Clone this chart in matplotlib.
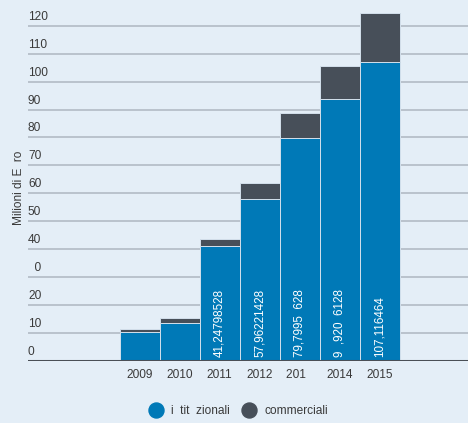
import matplotlib.pyplot as plt
from matplotlib.lines import Line2D
import matplotlib.transforms as mtransforms

plt.rcParams['font.family'] = ['Liberation Sans', 'DejaVu Sans']

# data
years = ["2009", "2010", "2011", "2012", "201  ", "2014", "2015"]
istituzionali = [10.3, 13.7, 41.25, 57.96, 79.80, 93.92, 107.12]
commerciali = [1.1, 1.6, 2.4, 5.9, 9.1, 11.5, 17.6]
bar_labels = ["", "", "41,24798528", "57,96221428", "79,7995  628",
              "9  ,920  6128", "107,116464"]
yticks = [0, 10, 20, 30, 40, 50, 60, 70, 80, 90, 100, 110, 120]
ytick_labels = ["0", "10", "20", "  0", "40", "50", "60", "70", "80",
                "90", "100", "110", "120"]

bg = '#e4eef7'
blue = '#0079b7'
dark = '#474f59'

fig = plt.figure(figsize=(4.68, 4.23), dpi=100, facecolor=bg)
ax = fig.add_axes([28 / 468, 62 / 423, 440 / 468, 361 / 423])
ax.set_facecolor(bg)

x = list(range(len(years)))
ax.bar(x, istituzionali, width=1.0, color=blue, edgecolor='#d3e0ec',
       linewidth=0.7, zorder=3)
ax.bar(x, commerciali, width=1.0, bottom=istituzionali, color=dark,
       edgecolor='#d3e0ec', linewidth=0.7, zorder=3)

ax.set_xlim(-2.79, 8.21)
ax.set_ylim(0, 129.2)

# grid lines and labels sitting on top of them
trans = mtransforms.blended_transform_factory(ax.transAxes, ax.transData)
trans = trans + mtransforms.ScaledTranslation(0, 3 / 100, fig.dpi_scale_trans)
for v, lab in zip(yticks, ytick_labels):
    if v == 0:
        ax.axhline(v, color='#4a4f56', lw=2.2, zorder=4)
    else:
        ax.axhline(v, color='#b9c2cc', lw=1.4, zorder=1)
    ax.text(0, v, lab, transform=trans, ha='left', va='bottom',
            fontsize=8.6, color='#3a3a3a')

# values written inside the bars
for i, lab in enumerate(bar_labels):
    if lab:
        ax.annotate(lab, (i, 0), xytext=(0, 3), textcoords='offset points',
                    rotation=90, ha='center', va='bottom', color='white',
                    fontsize=8.4, zorder=5)

ax.set_xticks(x)
ax.set_xticklabels(years, fontsize=8.6, color='#3a3a3a')
ax.tick_params(axis='x', length=0, pad=6)
ax.set_yticks([])
for s in ax.spines.values():
    s.set_visible(False)

ax.set_ylabel("Milioni di E  ro", fontsize=8.6, color='#3a3a3a')
ax.yaxis.set_label_coords(-3 / 440, 0.48)

handles = [Line2D([], [], marker='o', ls='', markersize=10.8, color=blue),
           Line2D([], [], marker='o', ls='', markersize=10.8, color=dark)]
fig.legend(handles, ["i  tit  zionali", "commerciali"], loc='center',
           bbox_to_anchor=(236 / 468, 1 - 411 / 423), ncol=2, frameon=False,
           fontsize=8.6, handletextpad=0.3, columnspacing=0.6,
           labelcolor='#3a3a3a')

fig.savefig("out.png", dpi=100, facecolor=bg)
